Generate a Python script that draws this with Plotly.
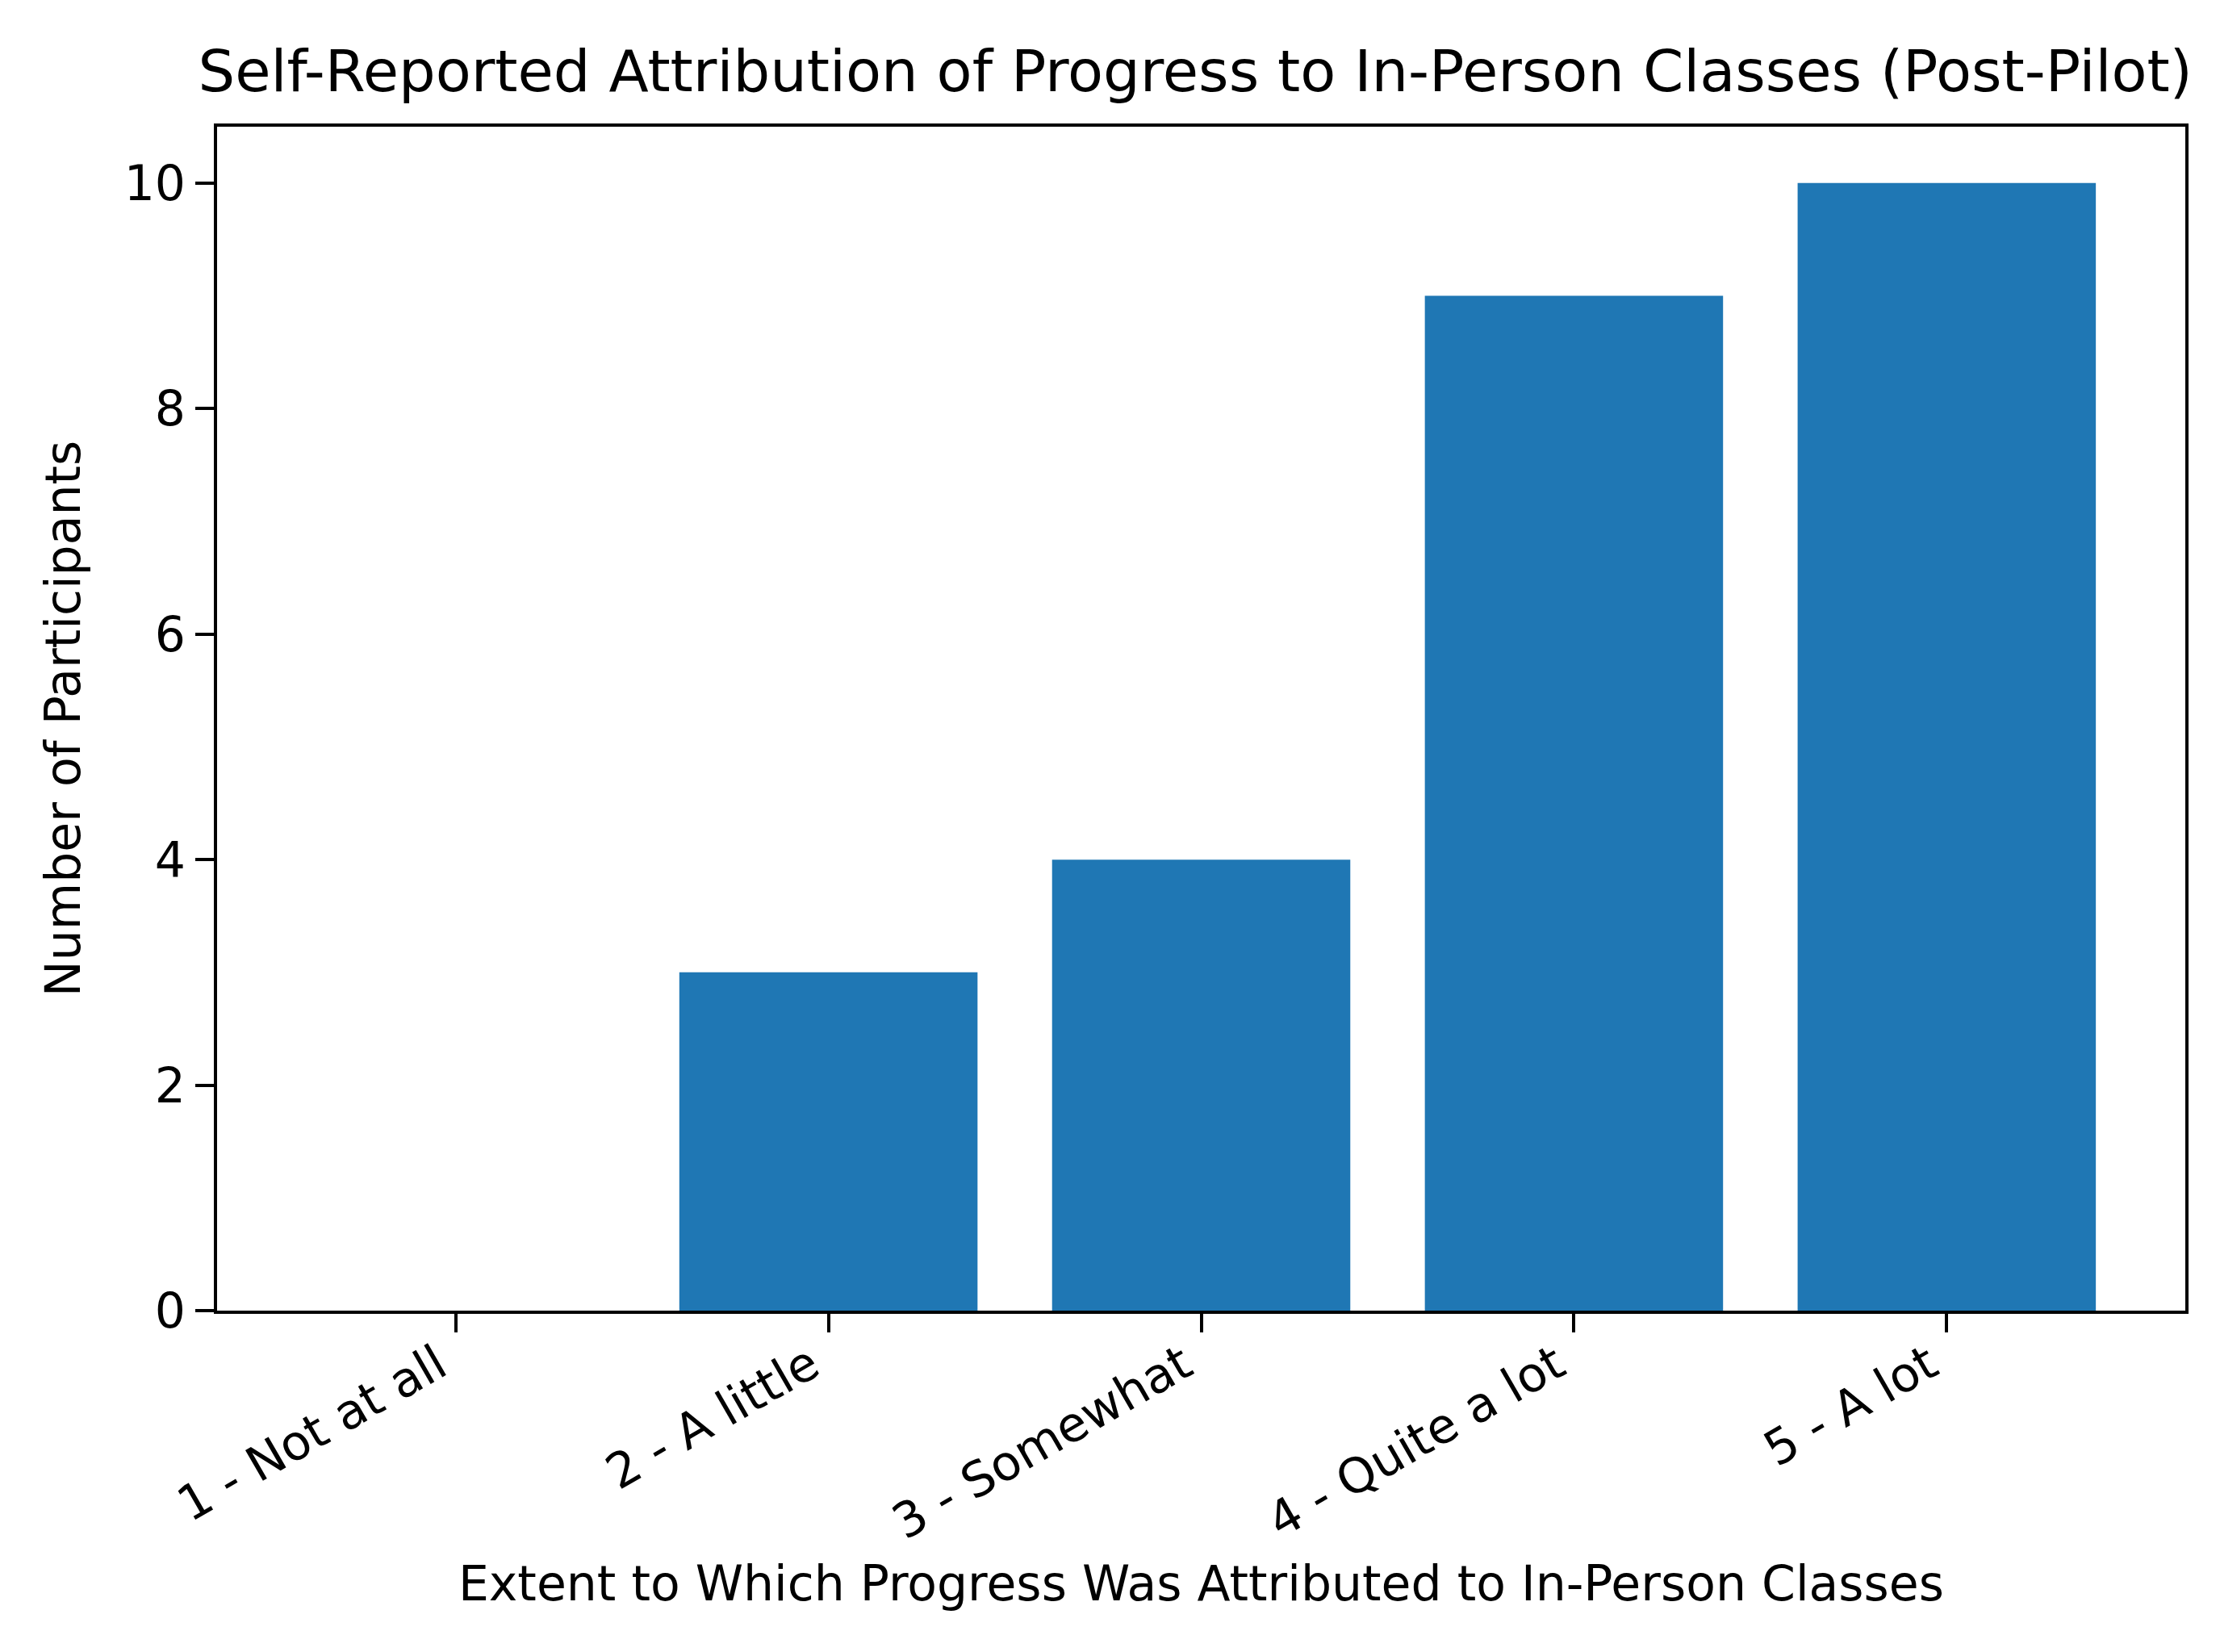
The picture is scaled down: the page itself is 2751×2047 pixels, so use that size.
import plotly.graph_objects as go

# survey answers and how many participants picked each one
categories = ["1 - Not at all", "2 - A little", "3 - Somewhat", "4 - Quite a lot", "5 - A lot"]
participants = [0, 3, 4, 9, 10]
y_ticks = [0, 2, 4, 6, 8, 10]

FONT = "DejaVu Sans"
BLUE = "#1f77b4"

fig = go.Figure(
    data=[go.Bar(x=categories, y=participants, marker=dict(color=BLUE, line=dict(width=0)))],
    layout=go.Layout(
        width=2751,
        height=2047,
        autosize=False,
        paper_bgcolor="white",
        plot_bgcolor="white",
        bargap=0.2,
        showlegend=False,
        margin=dict(l=261, r=51, t=149, b=431, pad=0),
        font=dict(family=FONT, size=60, color="black"),
        title=dict(
            text="Self-Reported Attribution of Progress to In-Person Classes (Post-Pilot)",
            font=dict(family=FONT, size=72, color="black"),
            x=0.497, xref="paper", xanchor="center",
            y=1 - 80 / 2047, yref="container", yanchor="middle",
        ),
        xaxis=dict(
            title=dict(text="Extent to Which Progress Was Attributed to In-Person Classes",
                       font=dict(size=60), standoff=22),
            range=[-0.64, 4.64],
            tickangle=-30,
            ticks="outside", ticklen=23, tickwidth=4, tickcolor="black",
            ticklabelstandoff=-18, ticklabelshift=-22,
            showline=True, linewidth=4, linecolor="black", mirror=True,
            showgrid=False, zeroline=False,
            tickfont=dict(size=60),
        ),
        yaxis=dict(
            title=dict(text="Number of Participants", font=dict(size=60), standoff=36),
            range=[0, 10.5],
            tickvals=y_ticks,
            ticks="outside", ticklen=23, tickwidth=4, tickcolor="black",
            showline=True, linewidth=4, linecolor="black", mirror=True,
            showgrid=False, zeroline=False,
            tickfont=dict(size=60),
        ),
    ),
)

fig.write_html("out.html")
